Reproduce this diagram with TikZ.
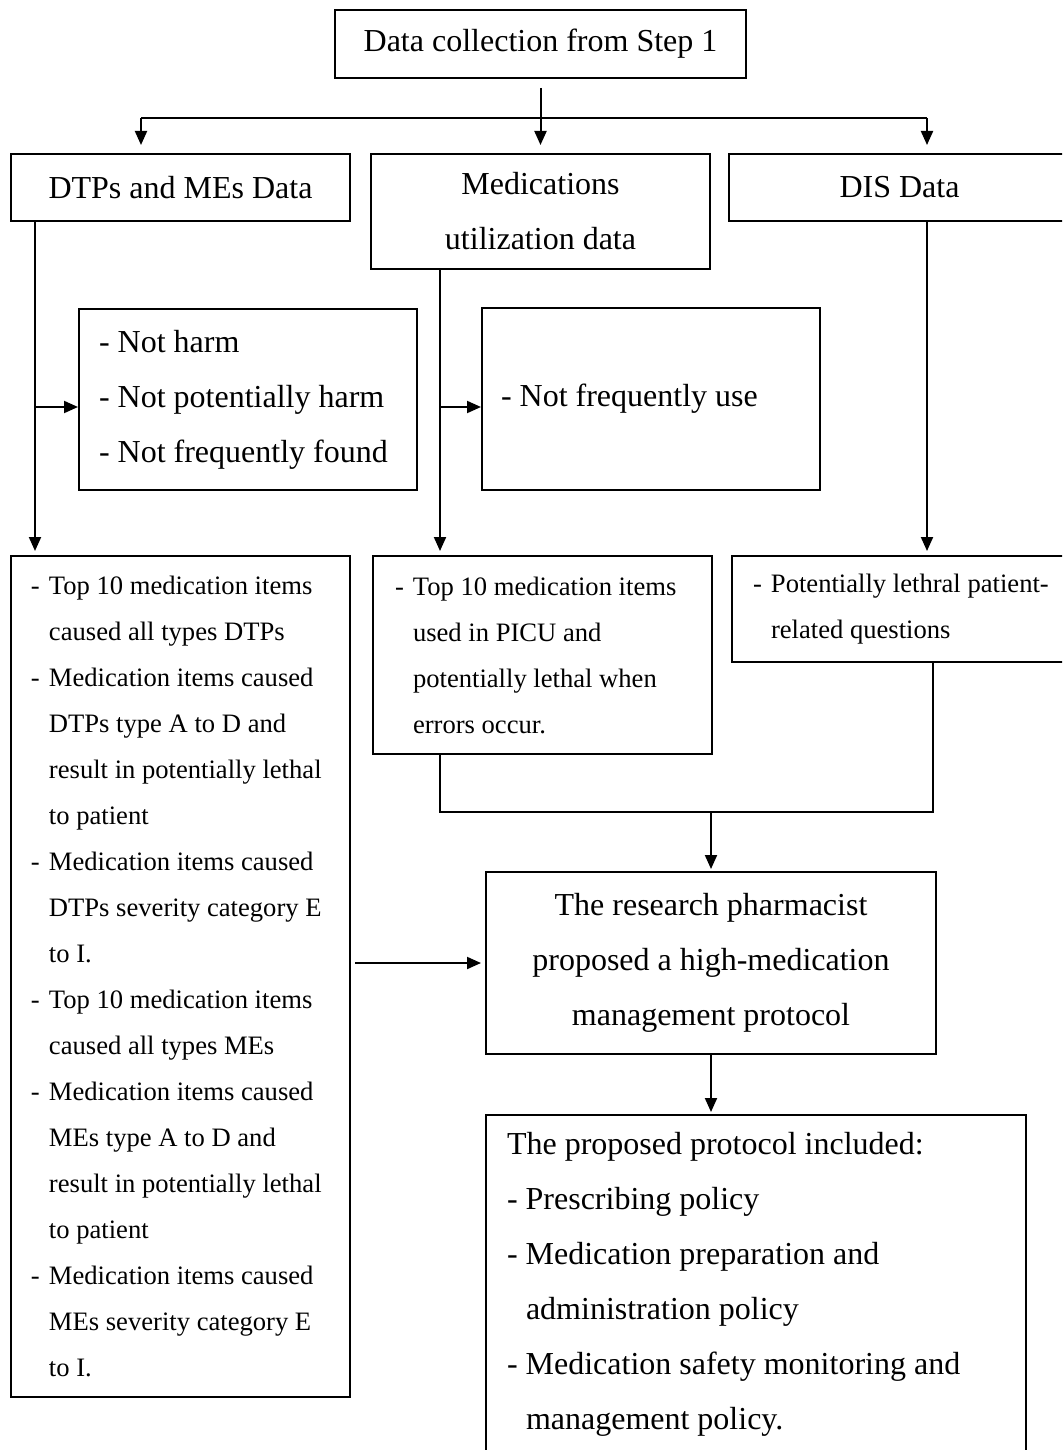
\documentclass[tikz,border=0pt]{standalone}
\usepackage{fontspec}
\setmainfont{Liberation Serif}
\usetikzlibrary{arrows.meta}
\newcommand\dashitem{\makebox[9pt][l]{-}}
\newcommand\contind{\hspace*{9pt}}
\newcommand\bigind{\hspace*{9.5pt}}
\begin{document}
\begin{tikzpicture}[x=0.5pt,y=-0.5pt,
 box/.style={draw, line width=1pt, inner sep=0pt},
 bigtxt/.style={font=\fontsize{16}{27.5}\selectfont},
 smalltxt/.style={font=\fontsize{13.3}{23}\selectfont},
 cbox/.style={box, bigtxt, align=center},
 lbox/.style={box, align=flush left},
 conn/.style={line width=1pt},
 arr/.style={conn, -{Triangle[length=7pt,width=6pt]}}]
\useasboundingbox (0,0) rectangle (1062,1450);
\clip (0,0) rectangle (1062,1450);
\fill[white] (0,0) rectangle (1062,1450);

\node[cbox, minimum width=205.5pt, minimum height=34pt] (top) at (540.5,44) {Data collection from Step 1};
\node[cbox, minimum width=169.5pt, minimum height=33.5pt] (dtp) at (180.5,187.5) {DTPs and MEs Data};
\node[cbox, minimum width=169.5pt, minimum height=57.5pt] (med) at (540.5,211.5) {Medications\\utilization data};
\node[cbox, minimum width=170.5pt, minimum height=33.5pt] (dis) at (899.5,187.5) {DIS Data};

\node[lbox, bigtxt, text width=149pt, inner xsep=10pt, minimum height=90.5pt] (notharm) at (248,399.5)
 {- Not harm\\- Not potentially harm\\- Not frequently found};
\node[lbox, bigtxt, text width=150pt, inner xsep=9.5pt, minimum height=91pt] (notuse) at (651,399)
 {- Not frequently use};

\node[lbox, smalltxt, text width=149.5pt, inner xsep=10pt, minimum height=420.5pt] (dtplist) at (180.5,976.5)
 {\dashitem Top 10 medication items\\
  \contind caused all types DTPs\\
  \dashitem Medication items caused\\
  \contind DTPs type A to D and\\
  \contind result in potentially lethal\\
  \contind to patient\\
  \dashitem Medication items caused\\
  \contind DTPs severity category E\\
  \contind to I.\\
  \dashitem Top 10 medication items\\
  \contind caused all types MEs\\
  \dashitem Medication items caused\\
  \contind MEs type A to D and\\
  \contind result in potentially lethal\\
  \contind to patient\\
  \dashitem Medication items caused\\
  \contind MEs severity category E\\
  \contind to I.};
\node[lbox, smalltxt, text width=147.5pt, inner xsep=11pt, minimum height=99pt] (medlist) at (542.5,655)
 {\dashitem Top 10 medication items\\
  \contind used in PICU and\\
  \contind potentially lethal when\\
  \contind errors occur.};
\node[lbox, smalltxt, text width=152pt, inner xsep=10.5pt, minimum height=53pt] (dislist) at (905,609)
 {\dashitem Potentially lethral patient-\\
  \contind related questions};

\node[cbox, minimum width=225pt, minimum height=91pt] (research) at (711,963)
 {The research pharmacist\\proposed a high-medication\\management protocol};
\node[lbox, bigtxt, text width=249pt, inner xsep=10.5pt, minimum height=169pt] (final) at (756,1284)
 {The proposed protocol included:\\
  - Prescribing policy\\
  - Medication preparation and\\
  \bigind administration policy\\
  - Medication safety monitoring and\\
  \bigind management policy.};

\coordinate (c1) at (35,0);
\coordinate (c2) at (440,0);
\coordinate (c3) at (927,0);
\coordinate (c4) at (933,0);
\coordinate (hubL) at (141,118);
\coordinate (hubR) at (927,118);
\coordinate (br) at (0,407);
\coordinate (merge) at (0,812);

\draw[arr] ([yshift=-4.5pt]top.south) -- ([yshift=4pt]top.south |- med.north);
\draw[conn] (hubL) -- (hubR);
\draw[arr] (hubL) -- ([yshift=4pt]hubL |- dtp.north);
\draw[arr] (hubR) -- ([yshift=4pt]hubR |- dis.north);

\draw[arr] (c1 |- dtp.south) -- ([yshift=2pt]c1 |- dtplist.north);
\draw[arr] (c1 |- br) -- (notharm.west |- br);
\draw[arr] (c2 |- med.south) -- ([yshift=2pt]c2 |- medlist.north);
\draw[arr] (c2 |- br) -- (notuse.west |- br);
\draw[arr] (c3 |- dis.south) -- ([yshift=2pt]c3 |- dislist.north);

\draw[conn] (c2 |- medlist.south) -- (c2 |- merge) -- (c4 |- merge) -- (c4 |- dislist.south);
\draw[arr] (research.north |- merge) -- ([yshift=1pt]research.north);
\draw[arr] ([xshift=2pt]dtplist.east |- research.west) -- ([xshift=-2pt]research.west);
\draw[arr] (research.south) -- ([yshift=1pt]research.south |- final.north);
\end{tikzpicture}
\end{document}
